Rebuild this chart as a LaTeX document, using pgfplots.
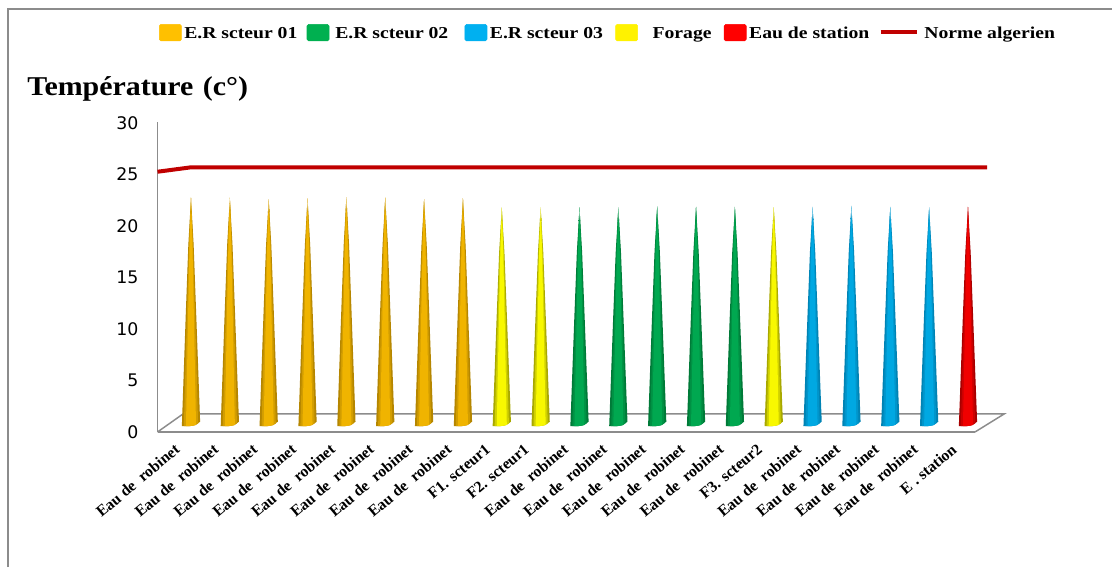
\documentclass[border=0pt]{standalone}
\usepackage{fontspec}
\setmainfont{Liberation Serif}
\newfontfamily\tickfont{DejaVu Sans}
\newfontfamily\legfont[FakeStretch=1.18]{Liberation Serif}
\newfontfamily\titlefont[FakeStretch=1.1]{Liberation Serif}
\usepackage{pgfplots}
\pgfplotsset{compat=1.18}
\definecolor{gA}{HTML}{B58600}\definecolor{gB}{HTML}{F0B400}
\definecolor{vA}{HTML}{007A38}\definecolor{vB}{HTML}{00A850}
\definecolor{bA}{HTML}{0083B4}\definecolor{bB}{HTML}{00A8E2}
\definecolor{yA}{HTML}{A8A800}\definecolor{yB}{HTML}{F8F800}
\definecolor{rA}{HTML}{A80000}\definecolor{rB}{HTML}{F00000}
\definecolor{fr}{HTML}{8C8C8C}
\definecolor{swG}{HTML}{FFC000}\definecolor{swV}{HTML}{00B050}\definecolor{swB}{HTML}{00B0F0}
\definecolor{normc}{HTML}{C00000}
% one shell of a cone: position, apparent height, shell scale, colour
\newcommand{\shell}[4]{%
  \pgfmathsetmacro{\xa}{#1-0.235*#3}\pgfmathsetmacro{\xb}{#1-0.07*#3}\pgfmathsetmacro{\xc}{#1+0.12*#3}\pgfmathsetmacro{\xd}{#1+0.235*#3}%
  \pgfmathsetmacro{\xe}{#1-0.135*#3}\pgfmathsetmacro{\xf}{#1+0.135*#3}\pgfmathsetmacro{\xg}{#1-0.068*#3}\pgfmathsetmacro{\xh}{#1+0.068*#3}%
  \pgfmathsetmacro{\ya}{0.5*#2}\pgfmathsetmacro{\yb}{0.8*#2}\pgfmathsetmacro{\yc}{0.56+0.12*#3}\pgfmathsetmacro{\yd}{0.56+0.44*#3*#3}%
  \addplot[forget plot,draw=none,fill=#4] coordinates {(\xa,0.58) (\xb,0.56) (\xc,\yc) (\xd,\yd) (\xf,\ya) (\xh,\yb) (#1,#2) (\xg,\yb) (\xe,\ya)} --cycle;
}
% one cone: position, apparent height, edge colour, centre colour
\newcommand{\cone}[4]{%
  \shell{#1}{#2}{1}{#3}%
  \shell{#1}{#2}{0.78}{#3!50!#4}%
  \shell{#1}{#2}{0.55}{#4}%
  \pgfmathsetmacro{\xtl}{#1-0.02}\pgfmathsetmacro{\xtr}{#1+0.02}\pgfmathsetmacro{\yt}{#2-1.3}%
  \addplot[forget plot,draw=none,top color=#4!10,bottom color=#3!50!#4] coordinates {(\xtl,\yt) (#1,#2) (\xtr,\yt)} --cycle;
}
\newcommand{\swatch}[1]{\addlegendimage{legend image code/.code={\fill[#1,rounded corners=1.2pt] (0pt,-5.5pt) rectangle (16.5pt,7pt);}}}
\begin{document}
\begin{tikzpicture}
\useasboundingbox (0pt,0pt) rectangle (834pt,-425.25pt);
\fill[white] (0pt,0pt) rectangle (834pt,-425.25pt);
\draw[fr,line width=0.9pt] (6pt,-425.25pt) -- (6pt,-6.75pt) -- (834pt,-6.75pt);
\node[anchor=base west,inner sep=0pt,font=\titlefont\bfseries\fontsize{20.4}{24}\selectfont] at (20.25pt,-71.5pt) {Température\hspace{0.35em}(c°)};
\begin{axis}[
  at={(118.125pt,-324pt)},anchor=south west,
  scale only axis,width=613.1pt,height=232.5pt,
  xmin=-0.862,xmax=20.18,ymin=0,ymax=30.1,
  clip=false,
  axis y line=left,axis x line=bottom,
  axis line style={draw=fr,line width=1.1pt,-},
  tick style={draw=none},
  xtick={0,...,20},
  xticklabels={Eau de\ \ robinet,Eau de\ \ robinet,Eau de\ \ robinet,Eau de\ \ robinet,Eau de\ \ robinet,Eau de\ \ robinet,Eau de\ \ robinet,Eau de\ \ robinet,F1. scteur1,F2. scteur1,Eau de\ \ robinet,Eau de\ \ robinet,Eau de\ \ robinet,Eau de\ \ robinet,Eau de\ \ robinet,F3. scteur2,Eau de\ \ robinet,Eau de\ \ robinet,Eau de\ \ robinet,Eau de\ \ robinet,E . station},
  xticklabel style={rotate=40,anchor=north east,font=\bfseries\fontsize{11.8}{12}\selectfont,inner sep=0pt,xshift=-13.75pt,yshift=3.84pt},
  ytick={0,5,...,30},
  yticklabel style={font=\tickfont\fontsize{13}{14}\selectfont,inner sep=0pt,xshift=-12pt},
  /pgf/number format/assume math mode=true,
  legend style={at={(0.002,1.316)},anchor=north west,draw=none,fill=none,font=\legfont\bfseries\fontsize{12.5}{14}\selectfont,inner sep=0pt,outer sep=0pt},
  legend columns=-1,
  legend cell align=left,
  /tikz/every even column/.append style={column sep=5pt},
]
\addplot[forget plot,fr,line width=1.1pt] coordinates {(-0.862,0) (-0.206,1.75) (20.93,1.75) (20.18,0)};
\cone{0}{22.75}{gA}{gB}
\cone{1}{22.75}{gA}{gB}
\cone{2}{22.6}{gA}{gB}
\cone{3}{22.7}{gA}{gB}
\cone{4}{22.8}{gA}{gB}
\cone{5}{22.75}{gA}{gB}
\cone{6}{22.6}{gA}{gB}
\cone{7}{22.7}{gA}{gB}
\cone{8}{21.8}{yA}{yB}
\cone{9}{21.8}{yA}{yB}
\cone{10}{21.8}{vA}{vB}
\cone{11}{21.8}{vA}{vB}
\cone{12}{21.9}{vA}{vB}
\cone{13}{21.85}{vA}{vB}
\cone{14}{21.85}{vA}{vB}
\cone{15}{21.8}{yA}{yB}
\cone{16}{21.85}{bA}{bB}
\cone{17}{21.95}{bA}{bB}
\cone{18}{21.85}{bA}{bB}
\cone{19}{21.8}{bA}{bB}
\cone{20}{21.85}{rA}{rB}
\addplot[forget plot,color=normc,line width=3pt] coordinates {(-0.862,25.27) (0,25.7) (1,25.7) (2,25.7) (3,25.7) (4,25.7) (5,25.7) (6,25.7) (7,25.7) (8,25.7) (9,25.7) (10,25.7) (11,25.7) (12,25.7) (13,25.7) (14,25.7) (15,25.7) (16,25.7) (17,25.7) (18,25.7) (19,25.7) (20,25.7) (20.49,25.7)};
\swatch{swG}\addlegendentry{E.R scteur 01}
\swatch{swV}\addlegendentry{\hspace{2.5pt}E.R scteur 02\hspace*{5.3pt}}
\swatch{swB}\addlegendentry{E.R scteur 03\hspace*{2.3pt}}
\swatch{yellow}\addlegendentry{\hspace{9pt}Forage\hspace*{2.3pt}}
\swatch{red}\addlegendentry{Eau de station}
\addlegendimage{legend image code/.code={\draw[normc,line width=3pt] (0pt,1.5pt) -- (27pt,1.5pt);}}
\addlegendentry{\hspace{2.3pt}Norme algerien}
\end{axis}
\end{tikzpicture}
\end{document}
